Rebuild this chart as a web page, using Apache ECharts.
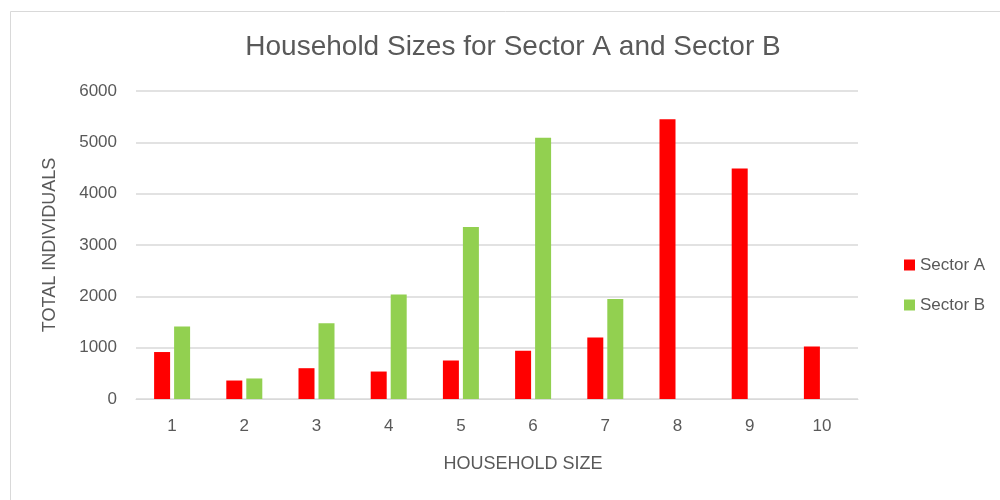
<!DOCTYPE html>
<html>
<head>
<meta charset="utf-8">
<script src="https://cdn.jsdelivr.net/npm/echarts@6/dist/echarts.min.js"></script>
<style>
html, body { margin: 0; padding: 0; background: #fff; }
#main { width: 1000px; height: 500px; }
</style>
</head>
<body>
<div id="main"></div>
<script>
var sizes = ['1', '2', '3', '4', '5', '6', '7', '8', '9', '10'];
var sectorA = [915, 360, 600, 535, 750, 940, 1200, 5450, 4490, 1025];
var sectorB = [1410, 400, 1475, 2035, 3350, 5090, 1950, '-', '-', '-'];
var yTicks = [0, 1000, 2000, 3000, 4000, 5000, 6000];

var myChart = echarts.init(document.getElementById('main'));
var txt = '#595959';
var font = 'Liberation Sans';

var option = {
    backgroundColor: '#fff',
    textStyle: { fontFamily: font },
    title: {
        text: 'Household Sizes for Sector A and Sector B',
        left: 508,
        top: 28,
        textAlign: 'center',
        textStyle: { fontSize: 28, fontWeight: 'normal', color: txt, fontFamily: font }
    },
    graphic: [{
        type: 'rect',
        shape: { x: 10.5, y: 11.5, width: 1000, height: 500 },
        style: { fill: 'none', stroke: '#d9d9d9', lineWidth: 1 },
        silent: true
    }],
    legend: {
        orient: 'vertical',
        left: 899,
        top: 250,
        itemWidth: 11,
        itemHeight: 11,
        itemGap: 20,
        icon: 'rect',
        textStyle: { fontSize: 17, lineHeight: 20, color: txt, fontFamily: font },
        data: ['Sector A', 'Sector B']
    },
    grid: { left: 136, right: 142, top: 91, bottom: 101 },
    xAxis: {
        type: 'category',
        data: sizes,
        name: 'HOUSEHOLD SIZE',
        nameLocation: 'middle',
        nameGap: 56,
        nameTextStyle: { fontSize: 18, color: txt, fontFamily: font, padding: [0, 0, 0, 52] },
        axisLine: { lineStyle: { color: '#d9d9d9', width: 1 } },
        axisTick: { show: false },
        axisLabel: { fontSize: 17, color: txt, margin: 19, fontFamily: font }
    },
    yAxis: {
        type: 'value',
        min: yTicks[0],
        max: yTicks[yTicks.length - 1],
        interval: 1000,
        name: 'TOTAL INDIVIDUALS',
        nameLocation: 'middle',
        nameGap: 77,
        nameTextStyle: { fontSize: 18, color: txt, fontFamily: font },
        axisLine: { show: false },
        axisTick: { show: false },
        axisLabel: {
            fontSize: 17, color: txt, margin: 19, fontFamily: font,
            formatter: function (v) { return String(v); }
        },
        splitLine: { lineStyle: { color: '#d9d9d9', width: 1.5 } }
    },
    series: [
        {
            name: 'Sector A',
            type: 'bar',
            data: sectorA,
            barWidth: 16,
            barGap: '25%',
            itemStyle: { color: '#ff0000' }
        },
        {
            name: 'Sector B',
            type: 'bar',
            data: sectorB,
            barWidth: 16,
            barGap: '25%',
            itemStyle: { color: '#92d050' }
        }
    ]
};
myChart.setOption(option);
</script>
</body>
</html>
